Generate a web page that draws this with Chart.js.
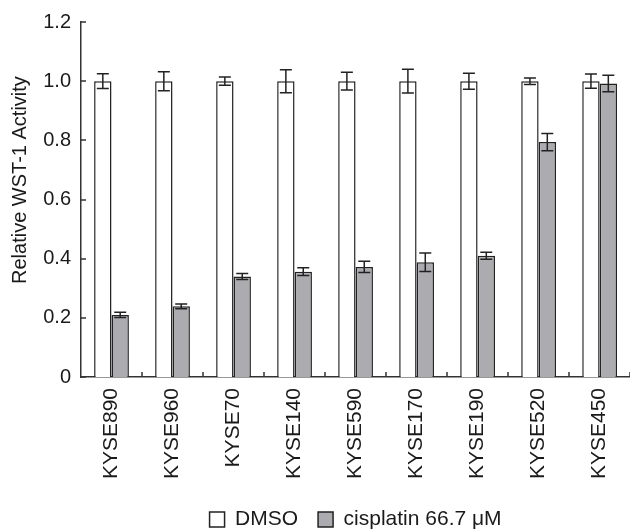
<!DOCTYPE html>
<html>
<head>
<meta charset="utf-8">
<script src="https://cdn.jsdelivr.net/npm/chart.js@4/dist/chart.umd.min.js"></script>
<style>
  html, body { margin: 0; padding: 0; background: #fff; overflow: hidden; }
  #wrap { width: 630px; height: 530px; overflow: hidden; }
</style>
</head>
<body>
<div id="wrap"><canvas id="grafico" width="636" height="540"></canvas></div>
<script>
// data
var cellLines = ['KYSE890', 'KYSE960', 'KYSE70', 'KYSE140', 'KYSE590', 'KYSE170', 'KYSE190', 'KYSE520', 'KYSE450'];
var dmso = [1.0, 1.0, 1.0, 1.0, 1.0, 1.0, 1.0, 1.0, 1.0];
var dmsoErr = [0.025, 0.032, 0.014, 0.039, 0.030, 0.040, 0.027, 0.011, 0.024];
var cisplatin = [0.210, 0.239, 0.340, 0.356, 0.372, 0.388, 0.410, 0.794, 0.992];
var cisplatinErr = [0.009, 0.008, 0.010, 0.013, 0.019, 0.031, 0.012, 0.029, 0.028];
var yTicks = [0, 0.2, 0.4, 0.6, 0.8, 1.0, 1.2];

var fonte = "'Liberation Sans', Arial, sans-serif";
var preto = '#1a1a1a';

// error bars + inward tick marks
var extras = {
    id: 'extras',
    afterDatasetsDraw: function (chart) {
        var ctx = chart.ctx;
        var y = chart.scales.y;
        ctx.save();
        ctx.strokeStyle = '#222';
        ctx.lineWidth = 1.5;
        chart.data.datasets.forEach(function (ds, d) {
            var meta = chart.getDatasetMeta(d);
            meta.data.forEach(function (bar, i) {
                var v = ds.data[i], e = ds.errors[i];
                var yt = y.getPixelForValue(v + e), yb = y.getPixelForValue(v - e);
                ctx.beginPath();
                ctx.moveTo(bar.x, yt); ctx.lineTo(bar.x, yb);
                ctx.moveTo(bar.x - 6, yt); ctx.lineTo(bar.x + 6, yt);
                ctx.moveTo(bar.x - 6, yb); ctx.lineTo(bar.x + 6, yb);
                ctx.stroke();
            });
        });
        ctx.restore();
    },
    afterDraw: function (chart) {
        var ctx = chart.ctx;
        var x = chart.scales.x, y = chart.scales.y;
        var area = chart.chartArea;
        ctx.save();
        ctx.strokeStyle = '#333';
        ctx.lineWidth = 1.5;
        ctx.beginPath();
        yTicks.forEach(function (t) {
            var py = Math.round(y.getPixelForValue(t));
            ctx.moveTo(area.left, py); ctx.lineTo(area.left + 5, py);
        });
        var larg = (x.right - x.left) / cellLines.length;
        for (var i = 1; i <= cellLines.length; i++) {
            var px = Math.round(x.getPixelForValue(i - 1) + larg / 2);
            ctx.moveTo(px, area.bottom); ctx.lineTo(px, area.bottom - 5);
        }
        ctx.stroke();
        ctx.restore();
    }
};

var ctx = document.getElementById('grafico').getContext('2d');
var grafico = new Chart(ctx, {
    type: 'bar',
    data: {
        labels: cellLines,
        datasets: [
            {
                label: 'DMSO',
                data: dmso,
                errors: dmsoErr,
                backgroundColor: '#ffffff',
                borderColor: '#222',
                borderWidth: 1.5
            },
            {
                label: 'cisplatin 66.7 \u03BCM',
                data: cisplatin,
                errors: cisplatinErr,
                backgroundColor: '#acacb0',
                borderColor: '#222',
                borderWidth: 1.5
            }
        ]
    },
    options: {
        responsive: false,
        animation: false,
        layout: { padding: { top: 15, right: 3, left: 0, bottom: 0 } },
        datasets: { bar: { categoryPercentage: 0.57, barPercentage: 1.0 } },
        scales: {
            x: {
                grid: { display: false, drawTicks: false },
                border: { display: true, color: '#333', width: 1.5 },
                ticks: {
                    minRotation: 90, maxRotation: 90, padding: 11,
                    color: preto, font: { family: fonte, size: 21 }
                },
                afterFit: function (scale) { scale.height = 112; }
            },
            y: {
                min: 0, max: 1.2,
                grid: { display: false, drawTicks: false },
                border: { display: true, color: '#333', width: 1.5 },
                afterBuildTicks: function (scale) {
                    scale.ticks = yTicks.map(function (v) { return { value: v }; });
                },
                ticks: {
                    padding: 10, color: preto, font: { family: fonte, size: 20 },
                    callback: function (v) { return v === 0 ? '0' : Number(v).toFixed(1); }
                },
                title: {
                    display: true,
                    text: '       Relative WST-1 Activity',
                    color: preto,
                    font: { family: fonte, size: 20 },
                    padding: { top: 8, bottom: 0 }
                },
                afterFit: function (scale) { scale.width = 81; }
            }
        },
        plugins: {
            legend: {
                position: 'bottom',
                fullSize: false,
                labels: {
                    boxWidth: 15, boxHeight: 15, padding: 20,
                    color: preto, font: { family: fonte, size: 21 }
                }
            },
            tooltip: { enabled: false }
        }
    },
    plugins: [extras]
});
</script>
</body>
</html>
